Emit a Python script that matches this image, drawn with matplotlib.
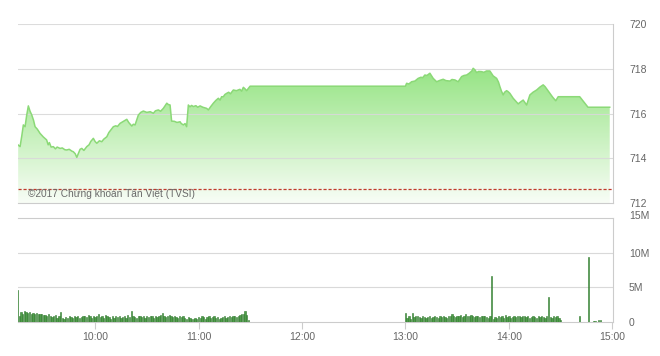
import numpy as np
import matplotlib
matplotlib.use("Agg")
import matplotlib.pyplot as plt
from matplotlib.patches import Polygon
from matplotlib.transforms import ScaledTranslation

# ---------------- data (time = minutes after 09:00) ----------------
price_time = [15.4, 16.5, 17.5, 18.4, 19.4, 20.3, 21.3, 22.3, 23.3, 24.3, 25.2, 26.5, 28.1, 30, 31.9,
              32.8, 33.5, 34.5, 35.8, 37, 38, 39.7, 41, 42.5, 43.6, 45, 46.5, 47.4, 48.5, 49.4,
              50.5, 51.3, 52.3, 53.5, 55.2, 56.5, 57.5, 59.0, 60, 61.0, 62.5, 63.9, 65, 66.8, 68,
              69.5, 70.6, 72, 73, 74.5, 76, 78.4, 79.5, 81.3, 82.2, 83.2, 84.1, 85.1, 86.5, 88.0,
              90, 92, 93.8, 95, 96.7, 98, 99.6, 101.6, 102.5, 103.5, 104.4, 106, 107.5, 109.3, 110,
              111.2, 112.2, 113.1, 114.1, 115, 116, 117.0, 118.5, 119.5, 120.9, 122.5, 124.7, 125.7,
              127, 128.6, 130, 131.5, 132.5, 133.4, 134.4, 135.3, 136.3, 137.5, 138.5, 140.2, 142,
              144.0, 145, 146.0, 147, 147.9, 149.9, 240,
              240.7, 242, 243.6, 245.5, 247.4, 249, 250, 251.3, 252.5, 254.2, 255, 256.1, 258.1, 260,
              261.9, 263.5, 265.8, 267, 268.7, 270.6, 272.6, 274, 275.5, 277, 278.5, 279.3, 280.3,
              281.3, 282.5, 284.2, 285.5, 287, 289.0, 290, 290.9, 292.9, 294, 294.8, 295.7, 296.7,
              297.5, 298.7, 299.5, 300.6, 302.5, 304, 305.4, 306.5, 308.3, 310.3, 311.2, 312.2, 314,
              316.1, 318, 319.9, 321, 323.8, 325.5, 327.2, 328.6, 341.1, 345.9, 358.5]
price_value = [714.59, 714.52, 715.0, 715.49, 715.41, 715.9, 716.34, 716.1, 715.93, 715.7, 715.41, 715.3,
               715.11, 714.95, 714.82, 714.6, 714.7, 714.5, 714.52, 714.42, 714.5, 714.44, 714.46,
               714.38, 714.37, 714.4, 714.32, 714.29, 714.2, 714.04, 714.25, 714.4, 714.44, 714.35,
               714.52, 714.6, 714.75, 714.89, 714.75, 714.67, 714.78, 714.74, 714.85, 714.96, 715.15,
               715.3, 715.41, 715.45, 715.42, 715.56, 715.63, 715.74, 715.6, 715.44, 715.52, 715.49,
               715.7, 715.93, 716.05, 716.11, 716.05, 716.08, 716.01, 716.12, 716.16, 716.1, 716.23,
               716.46, 716.4, 716.38, 715.66, 715.65, 715.6, 715.63, 715.55, 715.49, 715.55, 715.41,
               716.38, 716.3, 716.36, 716.31, 716.35, 716.28, 716.34, 716.28, 716.23, 716.16, 716.3,
               716.46, 716.58, 716.68, 716.6, 716.75, 716.75, 716.85, 716.90, 716.95, 716.88, 717.05,
               717.02, 717.08, 717.0, 717.17, 717.1, 717.02, 717.22, 717.22,
               717.35, 717.32, 717.42, 717.45, 717.57, 717.62, 717.6, 717.72, 717.7, 717.80, 717.7,
               717.57, 717.42, 717.48, 717.53, 717.47, 717.45, 717.52, 717.50, 717.42, 717.65, 717.7,
               717.72, 717.8, 717.9, 718.02, 717.95, 717.83, 717.88, 717.87, 717.84, 717.9, 717.90,
               717.78, 717.68, 717.57, 717.4, 717.20, 717.0, 716.83, 716.95, 717.02, 716.98, 716.90,
               716.68, 716.55, 716.43, 716.5, 716.60, 716.38, 716.6, 716.83, 716.95, 717.05, 717.18,
               717.28, 717.2, 716.90, 716.72, 716.57, 716.75, 716.75, 716.28, 716.28]
reference_price = 712.62

vol_morning_start = 15
vol_morning = [4.6,
               0.9, 1.5, 1.2, 1.6, 1.4, 1.3, 1.4, 1.2, 1.3, 1.1, 1.3, 1.2, 1.1, 1.2, 1.0,
               1.0, 0.8, 1.1, 0.9, 0.7, 0.8, 1.0, 0.6, 0.9, 1.4, 0.6, 0.5, 0.7, 0.6, 0.8,
               0.7, 0.6, 0.9, 0.7, 0.8, 0.6, 0.7, 0.9, 0.8, 0.7, 1.0, 0.9, 0.6, 0.8, 0.7,
               0.9, 1.1, 0.7, 0.8, 0.6, 1.0, 0.8, 0.7, 0.5, 0.9, 0.6, 0.8, 0.7, 0.9, 0.6,
               0.7, 0.8, 0.6, 1.0, 0.7, 1.6, 0.8, 0.7, 0.6, 0.9, 0.8, 0.7, 0.9, 0.6, 0.8,
               0.7, 0.9, 0.8, 0.6, 0.9, 0.7, 0.8, 1.0, 1.3, 0.8, 0.7, 0.9, 1.0, 0.8, 0.7,
               0.8, 0.7, 0.6, 0.9, 0.7, 0.8, 0.6, 0.5, 0.7, 0.6, 0.5, 0.4, 0.6, 0.5, 0.7,
               0.6, 0.8, 0.7, 0.5, 0.7, 0.8, 0.6, 0.7, 0.8, 0.6, 0.7, 0.5, 0.6, 0.7, 0.8,
               0.6, 0.7, 0.8, 0.7, 0.9, 0.8, 0.7, 0.9, 1.0, 1.2, 1.1, 1.6, 1.0, 0.3]
vol_afternoon_start = 240
vol_afternoon = [1.3, 0.6, 0.8, 0.5, 1.3, 0.7, 0.9, 0.8, 0.7, 0.6, 0.8, 0.7, 0.6, 0.7, 0.8,
                 0.6, 0.7, 0.8, 0.7, 0.6, 0.8, 0.7, 0.9, 0.7, 0.6, 0.8, 0.9, 1.1, 0.8, 0.7,
                 0.9, 0.8, 1.0, 0.7, 0.8, 1.1, 0.8, 0.9, 1.0, 0.8, 0.7, 0.9, 0.8, 0.7, 0.8,
                 0.9, 0.8, 0.7, 0.6, 0.8, 6.6, 0.5, 0.7, 0.6, 0.8, 0.7, 0.9, 0.6, 1.0, 0.7,
                 0.8, 0.6, 0.7, 0.8, 0.7, 0.9, 0.8, 0.7, 0.8, 0.9, 0.7, 0.8, 0.6, 0.7, 0.8,
                 0.7, 0.6, 0.8, 0.7, 0.9, 0.7, 0.6, 0.8, 3.6, 0.7, 0.6, 0.8, 0.7, 0.9, 0.6,
                 0.3]
vol_late_time = [341, 346, 349, 350, 352, 353]
vol_late = [0.9, 9.4, 0.1, 0.15, 0.35, 0.35]

price_ticks = [712, 714, 716, 718, 720]
vol_ticks = [0, 5, 10, 15]
vol_tick_labels = ["0", "5M", "10M", "15M"]
time_ticks = [60, 120, 180, 240, 300, 360]
time_labels = ["10:00", "11:00", "12:00", "13:00", "14:00", "15:00"]
watermark = "©2017 Chứng khoán Tân Việt (TVSI)"

# ---------------- style ----------------
plt.rcParams["font.family"] = ["Liberation Sans", "DejaVu Sans"]

W, H = 660, 356
fig = plt.figure(figsize=(W / 100, H / 100), dpi=100)
fig.patch.set_facecolor("white")

def frac(x0, y0, x1, y1):
    return [x0 / W, 1 - y1 / H, (x1 - x0) / W, (y1 - y0) / H]

XMIN, XMAX = 15.3, 360.4
grid_c = "#d9d9d9"
label_c = "#666666"
tick_fs = 7.5

# ---------------- price panel ----------------
ax = fig.add_axes(frac(18, 24, 613, 203))
ax.set_xlim(XMIN, XMAX)
ax.set_ylim(712, 720)

pt = np.array(price_time)
pv = np.array(price_value)
verts = np.column_stack([np.r_[pt[0], pt, pt[-1]], np.r_[712, pv, 712]])
poly = Polygon(verts, closed=True, facecolor="none", edgecolor="none")
ax.add_patch(poly)
top_c = np.array([150, 228, 132]) / 255
bot_c = np.array([248, 253, 246]) / 255
ys = np.linspace(0, 1, 256)[:, None]
grad = bot_c[None, None, :] * (1 - ys[..., None]) + top_c[None, None, :] * ys[..., None]
grad = np.repeat(grad, 2, axis=1)
im = ax.imshow(grad, extent=[XMIN, XMAX, 712, 718], origin="lower", aspect="auto",
               interpolation="bilinear", zorder=1)
im.set_clip_path(poly)
ax.plot(pt, pv, color="#8bd977", lw=1.1, zorder=3)

for v in price_ticks[1:]:
    ax.axhline(v, color=grid_c, lw=0.8, zorder=2, alpha=0.9)
ax.axhline(reference_price, color="#c0392b", lw=0.9, dashes=(2.5, 1.5), zorder=4)

fig.text(28 / W, 1 - 194 / H, watermark, fontsize=7.3, color="#6a6a6a", va="center",
         ha="left", zorder=5)

for s in ["left", "top"]:
    ax.spines[s].set_visible(False)
for s in ["right", "bottom"]:
    ax.spines[s].set_color("#cccccc")
    ax.spines[s].set_linewidth(0.8)
ax.set_xticks([])
ax.yaxis.tick_right()
ax.set_yticks(price_ticks)
ax.set_yticklabels([str(v) for v in price_ticks])
ax.tick_params(axis="y", length=0, pad=11.5, labelsize=tick_fs, labelcolor=label_c)

# ---------------- volume panel ----------------
bx = fig.add_axes(frac(18, 218, 613, 322))
bx.set_xlim(XMIN, XMAX)
bx.set_ylim(0, 15)
mt = np.arange(len(vol_morning)) + vol_morning_start
at = np.arange(len(vol_afternoon)) + vol_afternoon_start
bar_kw = dict(width=0.75, color="#4f9d4a", edgecolor="#2f7a2c", linewidth=0.4, zorder=3)
bx.bar(mt, vol_morning, **bar_kw)
bx.bar(at, vol_afternoon, **bar_kw)
bx.bar(vol_late_time, vol_late, **bar_kw)
for v in vol_ticks[1:3]:
    bx.axhline(v, color=grid_c, lw=0.8, zorder=1)
bx.spines["left"].set_visible(False)
for s in ["right", "bottom", "top"]:
    bx.spines[s].set_color("#cccccc")
    bx.spines[s].set_linewidth(0.8)
bx.yaxis.tick_right()
bx.set_yticks(vol_ticks)
bx.set_yticklabels(vol_tick_labels)
bx.tick_params(axis="y", length=0, pad=11.5, labelsize=tick_fs, labelcolor=label_c)
bx.set_xticks(time_ticks)
bx.set_xticklabels(time_labels)
bx.tick_params(axis="x", length=5, width=0.8, color="#cccccc", pad=2,
               labelsize=tick_fs, labelcolor=label_c)
lab15 = bx.get_yticklabels()[-1]
lab15.set_transform(lab15.get_transform() + ScaledTranslation(0, 3 / 100, fig.dpi_scale_trans))

fig.savefig("out.png", dpi=100, facecolor="white")
